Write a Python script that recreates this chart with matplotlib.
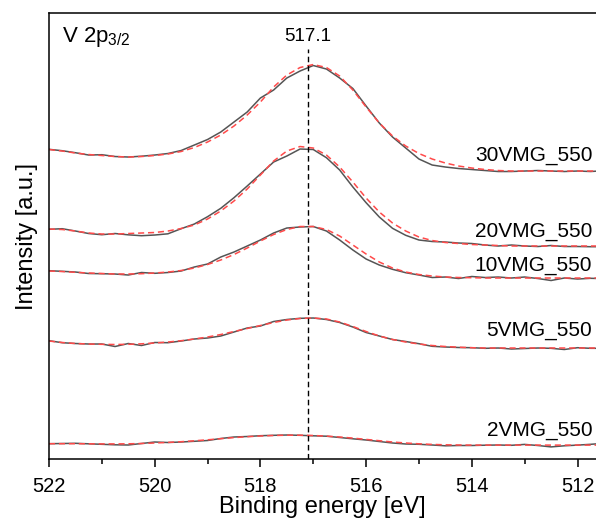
import matplotlib
matplotlib.use("Agg")
import matplotlib.pyplot as plt
import numpy as np

plt.rcParams['font.family'] = ['Liberation Sans', 'DejaVu Sans']
plt.rcParams['mathtext.default'] = 'regular'

# binding energy grid (eV), 0.25 eV steps
energy = [522.0, 521.75, 521.5, 521.25, 521.0, 520.75, 520.5, 520.25, 520.0, 519.75,
          519.5, 519.25, 519.0, 518.75, 518.5, 518.25, 518.0, 517.75, 517.5, 517.25,
          517.0, 516.75, 516.5, 516.25, 516.0, 515.75, 515.5, 515.25, 515.0, 514.75,
          514.5, 514.25, 514.0, 513.75, 513.5, 513.25, 513.0, 512.75, 512.5, 512.25,
          512.0, 511.75, 511.6]

# measured spectra (already offset for stacking)
raw_30 = [309.7, 308.3, 306.3, 304, 304.3, 302.5, 302, 302.8, 304, 305.5,
          308.5, 314, 319.5, 327, 337, 347, 361, 369, 381, 388,
          393.5, 390, 381, 370.5, 353, 336, 322, 311, 300, 294,
          292, 290.5, 289.5, 288.5, 287.5, 287.5, 288, 288.5, 288, 287.5,
          288, 287.5, 288]
raw_20 = [229.7, 230.3, 228, 225.5, 224.3, 225.5, 224.2, 223.3, 224, 225.2,
          230.3, 235, 242.3, 250.7, 261.3, 273, 285, 297, 303, 310,
          309.5, 301.3, 289, 272, 256.3, 242, 230.7, 223.7, 219, 217.5,
          217, 216, 215.5, 214, 213, 214, 213, 212.5, 213.5, 212.5,
          212.5, 212.3, 212.3]
raw_10 = [188.3, 187.7, 187, 185.5, 185.3, 185, 184, 186.5, 185.7, 186.5,
          188, 192, 195, 202, 207, 213, 219, 226, 231, 232,
          232.5, 228, 219, 209, 200, 194, 189.7, 186.3, 184, 181.5,
          182, 180.5, 182.5, 181.5, 182, 181, 182, 180.5, 178.5, 181,
          180, 180.7, 180.5]
raw_5 = [118.3, 116.3, 115.5, 115, 115, 112.5, 115.5, 113.5, 116.5, 116.3,
         118, 120, 121, 123, 127, 131, 133, 137.5, 139.5, 140.7,
         141, 139.5, 136.5, 132, 126.5, 123, 119.5, 117.5, 115.3, 112.7,
         112, 111.5, 111.3, 110.7, 111, 110, 110.5, 111, 110.7, 109.5,
         111.3, 110.7, 110.7]
raw_2 = [15.3, 15.5, 15.7, 15.2, 14.7, 14.2, 14, 15.5, 17, 16.5,
         17, 17.7, 18.5, 20.5, 22, 22.5, 23.3, 23.7, 24, 23.7,
         23.2, 22.8, 21.5, 20.2, 19, 17.5, 16, 15, 14.7, 14,
         13.2, 13.5, 13.5, 13.8, 14, 13.7, 14.6, 13.5, 12.1, 13.2,
         13.9, 14.7, 15.3]

# fitted envelopes
fit_30 = [309.5, 308, 306, 304.5, 303.5, 302.5, 302, 302.5, 303.5, 305,
          307.5, 311.5, 317, 324, 333, 344, 357, 372, 384, 391.5,
          394.5, 391.5, 383, 369, 352, 336, 323, 313, 305.5, 300,
          296, 293, 291, 289.5, 288.5, 288, 288, 288, 288, 288,
          288, 288, 288]
fit_20 = [230, 229.5, 228, 226, 225, 225, 225.5, 226, 226.5, 228,
          230.5, 234, 240, 248, 258, 270, 284, 298, 308, 312.5,
          311, 304, 292, 277, 261, 247, 236, 228, 222, 218.5,
          216.5, 215.5, 214.5, 214, 213.5, 213, 213, 213, 213, 213,
          213, 213, 213]
fit_10 = [188, 187.5, 186.7, 186, 185.5, 185, 185, 185.3, 186, 187,
          188.5, 191, 194.5, 199, 204.5, 211, 218, 224.5, 229.5, 232.5,
          232.5, 229.5, 223, 214, 205, 197, 191, 187, 184.5, 183,
          182, 181.5, 181.3, 181, 181, 181, 181, 181, 181, 181,
          181, 181, 181]
fit_5 = [118, 116.5, 115.5, 115, 114.7, 114.5, 114.7, 115.2, 116, 117,
         118.3, 120, 122, 124.5, 127.5, 130.5, 133.5, 136.5, 139, 140.5,
         141, 140, 137, 132.5, 127.5, 123, 119.5, 117, 115, 113.5,
         112.5, 111.8, 111.3, 111, 111, 111, 111, 111, 111, 111,
         111, 111, 111]
fit_2 = [15.3, 15.3, 15.3, 15.2, 15.1, 15.1, 15.2, 15.5, 16, 16.6,
         17.3, 18.2, 19.2, 20.3, 21.4, 22.3, 23, 23.5, 23.8, 23.8,
         23.5, 22.9, 22, 20.9, 19.6, 18.3, 17, 16, 15.2, 14.6,
         14.2, 14, 13.9, 13.9, 13.9, 13.9, 13.9, 13.9, 13.9, 13.9,
         13.9, 13.9, 13.9]

samples = ['30VMG_550', '20VMG_550', '10VMG_550', '5VMG_550', '2VMG_550']
raws = [raw_30, raw_20, raw_10, raw_5, raw_2]
fits = [fit_30, fit_20, fit_10, fit_5, fit_2]
label_y = [298.3, 222.3, 188, 123, 23]
peak_pos = 517.1

fig = plt.figure(figsize=(5.96, 5.19), dpi=100)
ax = fig.add_axes([0.0822, 0.1156, 0.9178, 0.8593])

for raw, fit, name, ly in zip(raws, fits, samples, label_y):
    ax.plot(energy, raw, color='#555555', lw=1.1)
    ax.plot(energy, fit, color='#ff4a4a', lw=1.1, ls=(0, (4, 2.5)))
    ax.text(511.72, ly, name, ha='right', va='baseline', fontsize=15)

ax.plot([peak_pos, peak_pos], [0, 410], color='black', lw=1.0, ls=(0, (4, 2.5)))
ax.text(peak_pos, 418, '517.1', ha='center', va='baseline', fontsize=13.5)
ax.text(0.024, 0.935, 'V 2p$_{3/2}$', transform=ax.transAxes, fontsize=16,
        va='baseline')

ax.set_xticks([522, 520, 518, 516, 514, 512])
ax.set_xticks(np.arange(512, 522, 1), minor=True)
ax.set_yticks([])
ax.set_xlim(522, 511.65)
ax.set_ylim(0, 446)
ax.tick_params(axis='x', which='major', direction='out', length=5.5, width=1.1,
               labelsize=14.5, pad=7.5)
ax.tick_params(axis='x', which='minor', direction='out', length=3.5, width=1.1)
for s in ['left', 'bottom', 'top']:
    ax.spines[s].set_linewidth(1.1)
ax.spines['right'].set_visible(False)
ax.set_xlabel('Binding energy [eV]', fontsize=17, labelpad=0)
ax.set_ylabel('Intensity [a.u.]', fontsize=17, labelpad=8)

fig.savefig('out.png', dpi=100)
